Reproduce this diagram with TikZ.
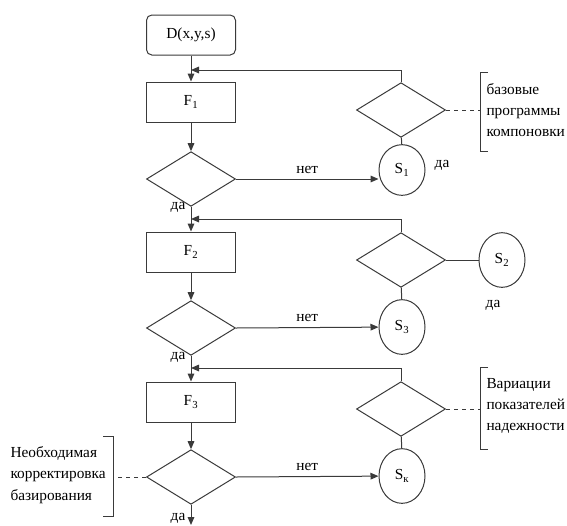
\documentclass[tikz,border=0pt]{standalone}
\usepackage{fontspec}
\setmainfont{Liberation Serif}
\usetikzlibrary{shapes.geometric,arrows.meta,positioning}
\definecolor{lineclr}{HTML}{3A3A3A}
\tikzset{every picture/.style={line width=0.75pt}}
\tikzset{
  blk/.style={draw=lineclr,rectangle,minimum width=66.75pt,minimum height=30pt,inner sep=0.75pt},
  cond/.style={draw=lineclr,diamond,minimum width=66.75pt,minimum height=41pt,inner sep=0pt},
  state/.style={draw=lineclr,ellipse,minimum width=34.5pt,minimum height=38pt,inner sep=0pt},
  flow/.style={draw=lineclr,-{Triangle[length=6pt,width=5pt]}},
  link/.style={draw=lineclr},
  note/.style={draw=lineclr,dashed},
  lbl/.style={inner sep=0.75pt,font=\rmfamily\fontsize{11.5}{16}\selectfont}
}

\begin{document}
\begin{tikzpicture}[x=0.75pt,y=0.75pt,yscale=-1,xscale=1,font=\rmfamily\fontsize{11.5}{16}\selectfont,color=black]
    \useasboundingbox (0,0) rectangle (567,525);

    % main column
    \node [blk,rounded corners=4pt] (D) at (191,35) {D(x,y,s)};
    \node [blk] (F1) at (191,102) {F\textsubscript{1}};
    \node [cond] (Q1) at (191,179) {};
    \node [blk] (F2) at (191,252) {F\textsubscript{2}};
    \node [cond] (Q2) at (191,328) {};
    \node [blk] (F3) at (191,402) {F\textsubscript{3}};
    \node [cond] (Q3) at (191,477) {};

    % right column
    \node [cond] (R1) at (401,110) {};
    \node [state] (S1) at (402,170) {S\textsubscript{1}};
    \node [cond] (R2) at (401,260) {};
    \node [state,minimum height=41pt] (S2) at (502,260) {S\textsubscript{2}};
    \node [state,minimum height=41pt] (S3) at (402,327) {S\textsubscript{3}};
    \node [cond] (R3) at (401,409) {};
    \node [state,minimum height=41pt] (Sk) at (402,476) {S\textsubscript{к}};

    % junctions
    \coordinate (J1) at (191,70);
    \coordinate (J2) at (191,219);
    \coordinate (J3) at (191,368);
    \coordinate (End) at (191,525);

    % vertical flow
    \draw [flow] (D) -- (F1);
    \draw [flow] (F1) -- (Q1);
    \draw [flow] (Q1) -- (F2);
    \draw [flow] (F2) -- (Q2);
    \draw [flow] (Q2) -- (F3);
    \draw [flow] (F3) -- (Q3);
    \draw [flow] (Q3) -- (End);

    % feedback
    \draw [flow] (R1.north) |- (J1);
    \draw [flow] (R2.north) |- (J2);
    \draw [flow] (R3.north) |- (J3);

    % "no" branches
    \draw [flow] (Q1.east) -- node [lbl,above=3pt] (N1) {нет} (S1.west |- Q1.east);
    \draw [flow] (Q2.east) -- node [lbl,above=3pt] (N2) {нет} (S3);
    \draw [flow] (Q3.east) -- node [lbl,above=3pt] (N3) {нет} (Sk);

    \draw [link] (R1) -- (S1);
    \draw [link] (R2) -- (S2);
    \draw [link] (R2) -- (S3);
    \draw [link] (R3) -- (Sk);

    % "yes" labels
    \node [lbl] (Y1) at (178,207) {да};
    \node [lbl] (Y2) at (178,357) {да};
    \node [lbl] (Y3) at (178,518) {да};
    \node [lbl] (Y4) at (442,165) {да};
    \node [lbl] (Y5) at (493,305) {да};

    % comments
    \coordinate (B1) at (480,110);
    \draw [link] (488,72) -- (480,72) -- (480,151) -- (488,151);
    \draw [note] (R1.east) -- (B1);
    \node [lbl,anchor=west,align=left] (T1) at (485,110) {базовые\\программы\\компоновки};

    \coordinate (B3) at (480,409);
    \draw [link] (488,367) -- (480,367) -- (480,449) -- (488,449);
    \draw [note] (R3.east) -- (B3);
    \node [lbl,anchor=west,align=left] (T3) at (485,406) {Вариации\\показателей\\надежности};

    \coordinate (B4) at (113,477);
    \draw [link] (103,436) -- (113,436) -- (113,516) -- (103,516);
    \draw [note] (Q3.west) -- (B4);
    \node [lbl,anchor=west,align=left] (T4) at (9,475) {Необходимая\\корректировка\\базирования};

\end{tikzpicture}
\end{document}
